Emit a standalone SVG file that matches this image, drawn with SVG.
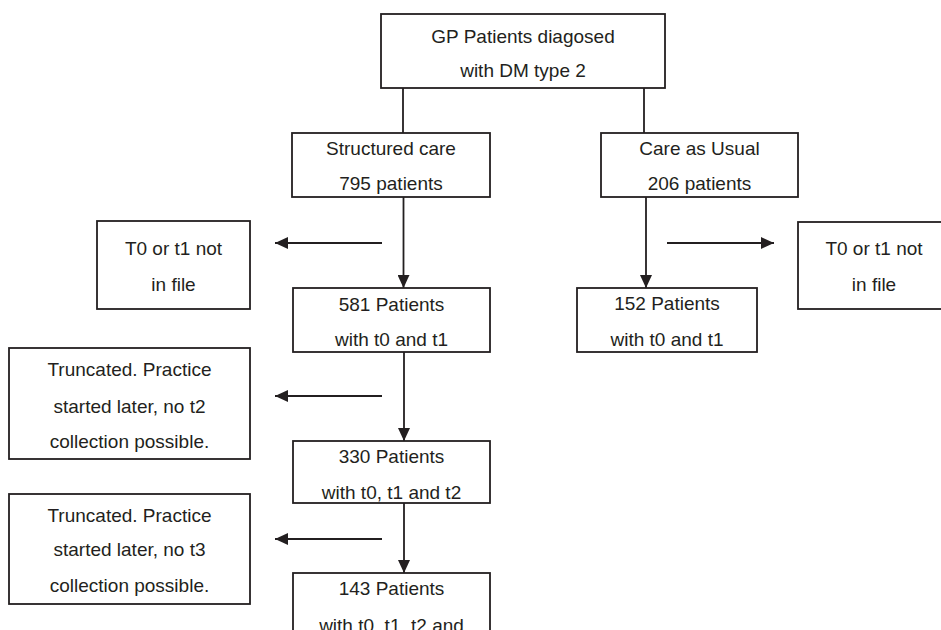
<svg xmlns="http://www.w3.org/2000/svg" width="941" height="630" viewBox="0 0 941 630">
<style>
.box{fill:#ffffff;stroke:#231f20;stroke-width:1.8}
.t{font-family:"Liberation Sans",Arial,sans-serif;font-size:19px;fill:#231f20;text-anchor:middle}
.c{fill:none;stroke:#231f20;stroke-width:1.8}
</style>
<defs>
<marker id="ah" markerUnits="userSpaceOnUse" markerWidth="13" markerHeight="12" refX="13" refY="6" orient="auto">
<path d="M0,0 L13,6 L0,12 z" fill="#231f20"/>
</marker>
</defs>
<rect width="941" height="630" fill="#ffffff"/>
<g id="connectors">
<line class="c" x1="403" y1="88" x2="403" y2="133"/>
<line class="c" x1="644" y1="88" x2="644" y2="133"/>
<line class="c" x1="403.5" y1="197" x2="403.5" y2="288" marker-end="url(#ah)"/>
<line class="c" x1="646" y1="197" x2="646" y2="288" marker-end="url(#ah)"/>
<line class="c" x1="382" y1="243" x2="275" y2="243" marker-end="url(#ah)"/>
<line class="c" x1="667" y1="243" x2="774" y2="243" marker-end="url(#ah)"/>
<line class="c" x1="404" y1="352" x2="404" y2="441" marker-end="url(#ah)"/>
<line class="c" x1="382" y1="396" x2="275" y2="396" marker-end="url(#ah)"/>
<line class="c" x1="404" y1="503" x2="404" y2="573" marker-end="url(#ah)"/>
<line class="c" x1="382" y1="539" x2="275" y2="539" marker-end="url(#ah)"/>
</g>
<g id="top">
<rect class="box" x="381" y="14" width="284" height="74"/>
<text class="t" x="523" y="43">GP Patients diagosed</text>
<text class="t" x="523" y="77">with DM type 2</text>
</g>
<g id="structured">
<rect class="box" x="292" y="133" width="198" height="64"/>
<text class="t" x="391" y="155">Structured care</text>
<text class="t" x="391" y="190">795 patients</text>
</g>
<g id="usual">
<rect class="box" x="601" y="133" width="197" height="64"/>
<text class="t" x="699.5" y="155">Care as Usual</text>
<text class="t" x="699.5" y="190">206 patients</text>
</g>
<g id="excl-left">
<rect class="box" x="97" y="221" width="153" height="88"/>
<text class="t" x="173.5" y="255">T0 or t1 not</text>
<text class="t" x="173.5" y="291">in file</text>
</g>
<g id="excl-right">
<rect class="box" x="798" y="222" width="152" height="87"/>
<text class="t" x="874" y="255">T0 or t1 not</text>
<text class="t" x="874" y="291">in file</text>
</g>
<g id="n581">
<rect class="box" x="293" y="288" width="197" height="64"/>
<text class="t" x="391.5" y="311">581 Patients</text>
<text class="t" x="391.5" y="346">with t0 and t1</text>
</g>
<g id="n152">
<rect class="box" x="577" y="288" width="180" height="64"/>
<text class="t" x="667" y="310">152 Patients</text>
<text class="t" x="667" y="346">with t0 and t1</text>
</g>
<g id="trunc1">
<rect class="box" x="9" y="348" width="241" height="111"/>
<text class="t" x="129.5" y="376">Truncated. Practice</text>
<text class="t" x="129.5" y="413">started later, no t2</text>
<text class="t" x="129.5" y="448">collection possible.</text>
</g>
<g id="n330">
<rect class="box" x="293" y="441" width="197" height="62"/>
<text class="t" x="391.5" y="463">330 Patients</text>
<text class="t" x="391.5" y="499">with t0, t1 and t2</text>
</g>
<g id="trunc2">
<rect class="box" x="9" y="494" width="241" height="110"/>
<text class="t" x="129.5" y="522">Truncated. Practice</text>
<text class="t" x="129.5" y="556">started later, no t3</text>
<text class="t" x="129.5" y="592">collection possible.</text>
</g>
<g id="n143">
<rect class="box" x="293" y="573" width="197" height="80"/>
<text class="t" x="391.5" y="595">143 Patients</text>
<text class="t" x="391.5" y="632">with t0, t1, t2 and</text>
</g>
</svg>
